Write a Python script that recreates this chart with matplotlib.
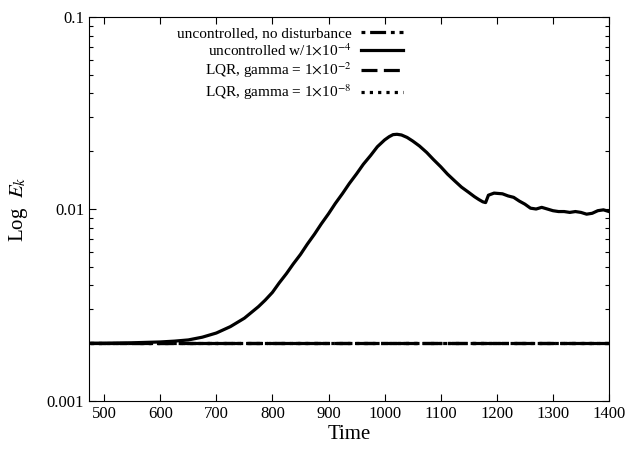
import matplotlib
matplotlib.use("Agg")
import matplotlib.pyplot as plt
import numpy as np

plt.rcParams['font.family'] = ['Liberation Serif', 'DejaVu Serif']
plt.rcParams['mathtext.fontset'] = 'stix'

# Data
base_time = [475, 1400]
base_energy = [0.002, 0.002]

unc_time = [475, 500, 550, 600, 625, 650, 675, 700, 725, 750, 775, 787, 800, 812, 825, 837,
            850, 862, 875, 887, 900, 912, 925, 937, 950, 962, 975, 987, 1000, 1008, 1015,
            1022, 1030, 1040, 1050, 1062, 1075, 1087, 1100, 1112, 1125, 1137, 1150, 1160,
            1168, 1175, 1180, 1185, 1195, 1210, 1220, 1230, 1240, 1250, 1260, 1270, 1280,
            1290, 1300, 1310, 1320, 1330, 1340, 1350, 1360, 1370, 1380, 1390, 1400]
unc_energy = [0.002, 0.002, 0.00201, 0.00203, 0.00205, 0.00208, 0.00215, 0.00226, 0.00244,
              0.0027, 0.0031, 0.00335, 0.00368, 0.00412, 0.00461, 0.00517, 0.0058, 0.00655,
              0.0074, 0.00836, 0.00945, 0.01068, 0.01205, 0.01357, 0.01525, 0.0171, 0.019,
              0.0211, 0.0229, 0.0238, 0.0244, 0.0245, 0.0243, 0.0236, 0.0226, 0.0213, 0.0197,
              0.0181, 0.0166, 0.0152, 0.0140, 0.0130, 0.0122, 0.0116, 0.0112, 0.0109, 0.0108,
              0.0118, 0.0121, 0.0120, 0.0117, 0.0115, 0.0110, 0.0106, 0.0101, 0.0100, 0.0102,
              0.0100, 0.0098, 0.0097, 0.0097, 0.0096, 0.0097, 0.0096, 0.0094, 0.0095, 0.0098,
              0.0099, 0.0097]

labels = ["uncontrolled, no disturbance",
          r"uncontrolled w/1$\times$10$^{-4}$",
          r"LQR, gamma = 1$\times$10$^{-2}$",
          r"LQR, gamma = 1$\times$10$^{-8}$"]

fig = plt.figure(figsize=(6.44, 4.49), dpi=100)
ax = fig.add_axes([0.1382, 0.1069, 0.8075, 0.8552])

lw = 2.3
ax.plot(base_time, base_energy, color='black', lw=lw, dashes=(1.2, 1.5, 5, 1.5), label=labels[0])
ax.plot(unc_time, unc_energy, color='black', lw=lw, label=labels[1])
ax.plot(base_time, base_energy, color='black', lw=lw, dashes=(5, 2), label=labels[2])
ax.plot(base_time, base_energy, color='black', lw=lw, dashes=(1, 1.6), label=labels[3])

ax.set_yscale('log')
ax.set_xlim(473, 1400)
ax.set_ylim(0.001, 0.1)
ax.set_xticks([500, 600, 700, 800, 900, 1000, 1100, 1200, 1300, 1400])
ax.set_yticks([0.001, 0.01, 0.1])
ax.set_yticklabels(['0.001', '0.01', '0.1'])
ax.tick_params(which='both', direction='in', top=True, right=True, labelsize=12)
ax.tick_params(which='major', length=5, width=0.8)
ax.tick_params(which='minor', length=3, width=0.8)
ax.tick_params(axis='y', which='minor', labelleft=False)

ax.set_xlabel('Time', fontsize=15, labelpad=2)
ax.set_ylabel(r'Log  $E_k$', fontsize=15, labelpad=12)

leg = ax.legend(loc='upper right', bbox_to_anchor=(0.622, 1.0), frameon=False,
                markerfirst=False, fontsize=11, handlelength=2.8,
                labelspacing=0.15, handletextpad=0.6, borderaxespad=0.2)

fig.savefig('out.png', dpi=100)
